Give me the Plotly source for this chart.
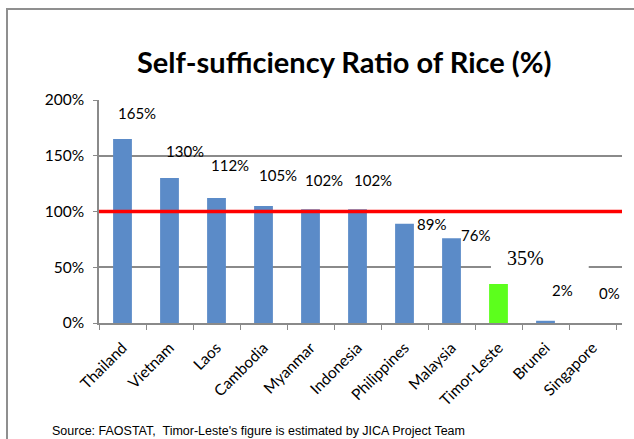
import plotly.graph_objects as go

# Self-sufficiency ratio of rice by country (%)
countries = ["Thailand", "Vietnam", "Laos", "Cambodia", "Myanmar", "Indonesia",
             "Philippines", "Malaysia", "Timor-Leste", "Brunei", "Singapore"]
ratios = [165, 130, 112, 105, 102, 102, 89, 76, 35, 2, 0]
highlight = "Timor-Leste"
threshold = 100
y_ticks = [0, 50, 100, 150, 200]
y_tick_labels = ["0%", "50%", "100%", "150%", "200%"]

# pixel offsets for the data labels (dx, dy)
label_offsets = [(14, 26), (15, 27), (13, 33), (14, 31), (13, 29), (15, 29),
                 (27, 0), (24, 3), (27, 26), (17, 31), (17, 30)]

W, H = 634, 439
ML, MR, MT, MB = 99, 12, 100, 116
PW, PH = W - ML - MR, H - MT - MB

def px(xp):
    return (xp - ML) / PW

def py(yp):
    return (H - MB - yp) / PH

blue = "#5B8BC8"
green = "#5CFF1C"
bar_colors = [green if c == highlight else blue for c in countries]

fig = go.Figure()
fig.add_trace(go.Bar(
    x=countries, y=ratios, width=0.4,
    marker=dict(color=bar_colors, line=dict(width=0)),
    hoverinfo="x+y",
))

# white text box behind the highlighted label (hides the 50% gridline)
hi = countries.index(highlight)
fig.add_shape(type="rect", xref="x", yref="y", x0=hi - 0.16, x1=hi + 1.92,
              y0=45, y1=56, fillcolor="white", line=dict(width=0), layer="above")

label_font = dict(family="Lato, Carlito, sans-serif", size=15, color="black")
serif_font = dict(family="Times New Roman, Liberation Serif, DejaVu Serif, serif",
                  size=20, color="black")
for c, v, (dx, dy) in zip(countries, ratios, label_offsets):
    fig.add_annotation(x=c, y=v, text=f"{v}%", showarrow=False,
                       xshift=dx, yshift=dy,
                       font=serif_font if c == highlight else label_font)

# 100% reference line
fig.add_shape(type="line", xref="paper", yref="y", x0=0, x1=1,
              y0=threshold, y1=threshold, line=dict(color="#FF0000", width=3.5))

# outer frame (left and top edges)
frame = dict(color="#8f8f8f", width=2)
fig.add_shape(type="line", xref="paper", yref="paper",
              x0=px(7), x1=px(7), y0=py(H + 5), y1=py(9), line=frame)
fig.add_shape(type="line", xref="paper", yref="paper",
              x0=px(6), x1=px(W + 5), y0=py(9), y1=py(9), line=frame)

fig.add_annotation(xref="paper", yref="paper", x=px(344), y=py(62),
                   text="<b>Self-sufficiency Ratio of Rice (%)</b>", showarrow=False,
                   xanchor="center", yanchor="middle",
                   font=dict(family="Lato, Carlito, sans-serif", size=29, color="black"))

fig.add_annotation(xref="paper", yref="paper", x=px(50), y=py(431),
                   text="Source: FAOSTAT,  Timor-Leste's figure is estimated by JICA Project Team",
                   showarrow=False, xanchor="left", yanchor="middle",
                   font=dict(family="Liberation Sans, Arial, sans-serif", size=12.5, color="black"))

fig.update_layout(
    width=W, height=H,
    margin=dict(l=ML, r=MR, t=MT, b=MB),
    paper_bgcolor="white", plot_bgcolor="white",
    showlegend=False,
    bargap=0.6,
)
fig.update_xaxes(
    type="category", tickangle=-45, tickson="boundaries",
    ticks="outside", ticklen=5, tickcolor="#8a8a8a",
    ticklabelstandoff=8,
    showline=True, linecolor="#8a8a8a", linewidth=1.5,
    showgrid=False,
    tickfont=dict(family="Lato, Carlito, sans-serif", size=15.5, color="black"),
)
fig.update_yaxes(
    range=[0, 200], tickvals=y_ticks, ticktext=y_tick_labels,
    ticks="outside", ticklen=4, tickcolor="#8a8a8a",
    ticklabelstandoff=6,
    showline=True, linecolor="#8a8a8a", linewidth=1.5,
    showgrid=True, gridcolor="#8a8a8a", gridwidth=1.5,
    zeroline=False,
    tickfont=dict(family="Lato, Carlito, sans-serif", size=15.5, color="black"),
)

fig.write_html("out.html")
